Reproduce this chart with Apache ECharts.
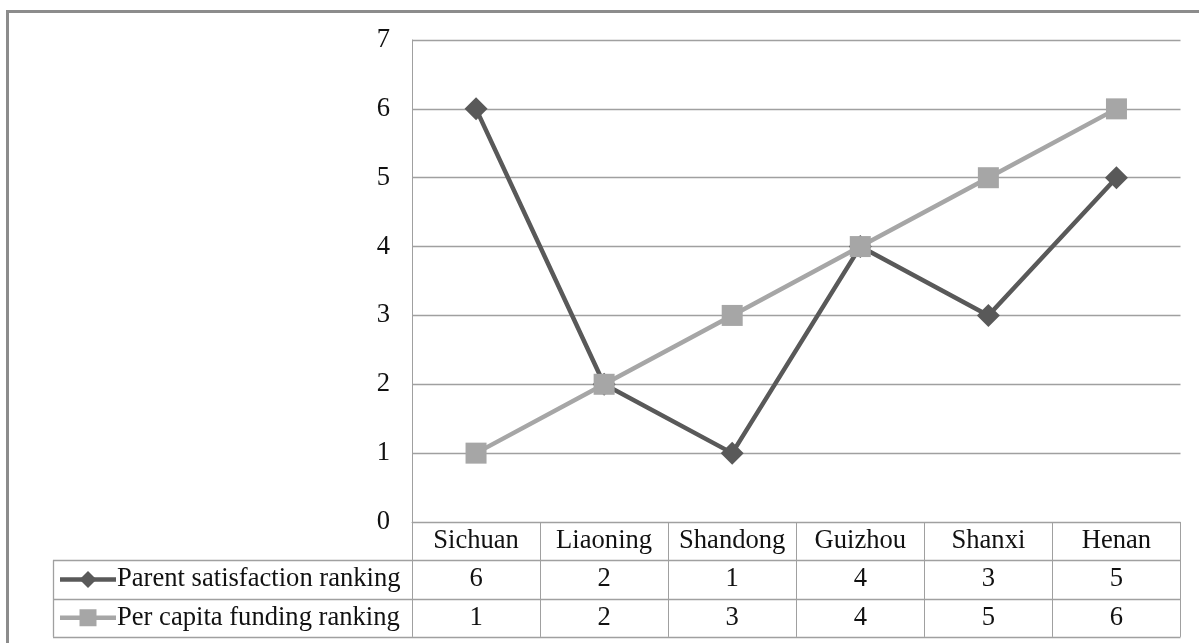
<!DOCTYPE html>
<html>
<head>
<meta charset="utf-8">
<script src="https://cdn.jsdelivr.net/npm/echarts@6/dist/echarts.min.js"></script>
<style>
html,body{margin:0;padding:0;background:#fff;}
#chart{width:1199px;height:643px;}
</style>
</head>
<body>
<div id="chart"></div>
<script>
const categories = ['Sichuan', 'Liaoning', 'Shandong', 'Guizhou', 'Shanxi', 'Henan'];
const parentSatisfaction = [6, 2, 1, 4, 3, 5];
const perCapitaFunding = [1, 2, 3, 4, 5, 6];
const seriesNames = ['Parent satisfaction ranking', 'Per capita funding ranking'];
const yMin = 0, yMax = 7, yInterval = 1;

const FONT = 'Liberation Serif';
const FS = 26.6;
const DARK = '#595959';
const LIGHT = '#a6a6a6';
const GRIDC = '#a0a0a0';
const TXT = '#111111';
const ROW_H = 38.3;

const chart = echarts.init(document.getElementById('chart'), null, {renderer: 'canvas'});

chart.setOption({
  animation: false,
  backgroundColor: '#ffffff',
  grid: {left: 412, top: 40, right: 18.5, bottom: 121, containLabel: false},
  xAxis: {
    type: 'category',
    data: categories,
    boundaryGap: true,
    axisLine: {show: true, lineStyle: {color: GRIDC, width: 1}},
    axisTick: {show: true, length: ROW_H * 3, inside: false, alignWithLabel: false, lineStyle: {color: GRIDC, width: 1}},
    axisLabel: {show: true, margin: 6, fontFamily: FONT, fontSize: FS, color: TXT, lineHeight: 26, interval: 0}
  },
  yAxis: {
    type: 'value',
    min: yMin, max: yMax, interval: yInterval,
    axisLine: {show: true, lineStyle: {color: GRIDC, width: 1}},
    axisTick: {show: false},
    splitLine: {show: true, lineStyle: {color: GRIDC, width: 1.3}},
    axisLabel: {margin: 22, fontFamily: FONT, fontSize: FS, color: TXT}
  },
  series: [
    {
      name: seriesNames[0], type: 'line', data: parentSatisfaction,
      symbol: 'diamond', symbolSize: 23,
      lineStyle: {color: DARK, width: 4.5},
      itemStyle: {color: DARK},
      z: 2
    },
    {
      name: seriesNames[1], type: 'line', data: perCapitaFunding,
      symbol: 'rect', symbolSize: 21,
      lineStyle: {color: LIGHT, width: 4.5},
      itemStyle: {color: LIGHT},
      z: 3
    }
  ]
});

function buildTable() {
  const axisY = chart.convertToPixel({yAxisIndex: 0}, 0);
  const centers = categories.map((c, i) => chart.convertToPixel({xAxisIndex: 0}, i));
  const band = centers.length > 1 ? centers[1] - centers[0] : 128;
  const rightX = centers[centers.length - 1] + band / 2;
  const tableLeft = 53;
  const g = [];
  g.push({type: 'rect', shape: {x: 7.5, y: 11.5, width: 1220, height: 660}, style: {fill: 'none', stroke: '#8c8c8c', lineWidth: 3}, silent: true});
  for (let r = 1; r <= 3; r++) {
    const y = Math.round(axisY + ROW_H * r) + 0.5;
    g.push({type: 'line', shape: {x1: tableLeft, y1: y, x2: rightX, y2: y}, style: {stroke: GRIDC, lineWidth: 1.3}, silent: true});
  }
  g.push({type: 'line', shape: {x1: tableLeft + 0.5, y1: axisY + ROW_H, x2: tableLeft + 0.5, y2: axisY + ROW_H * 3}, style: {stroke: GRIDC, lineWidth: 1.3}, silent: true});
  const rows = [
    {name: seriesNames[0], data: parentSatisfaction, color: DARK, symbol: 'diamond'},
    {name: seriesNames[1], data: perCapitaFunding, color: LIGHT, symbol: 'rect'}
  ];
  rows.forEach((row, ri) => {
    const cy = axisY + ROW_H * (ri + 1) + ROW_H / 2;
    g.push({type: 'line', shape: {x1: 60, y1: cy, x2: 116, y2: cy}, style: {stroke: row.color, lineWidth: 4.5}, silent: true});
    if (row.symbol === 'diamond') {
      g.push({type: 'polygon', shape: {points: [[88, cy - 8.5], [96.5, cy], [88, cy + 8.5], [79.5, cy]]}, style: {fill: row.color}, silent: true});
    } else {
      g.push({type: 'rect', shape: {x: 79.5, y: cy - 8.5, width: 17, height: 17}, style: {fill: row.color}, silent: true});
    }
    g.push({type: 'text', x: 117, y: cy, style: {text: row.name, font: FS + 'px "' + FONT + '"', fill: TXT, textAlign: 'left', textVerticalAlign: 'middle'}, silent: true});
    row.data.forEach((v, ci) => {
      g.push({type: 'text', x: centers[ci], y: cy, style: {text: String(v), font: FS + 'px "' + FONT + '"', fill: TXT, textAlign: 'center', textVerticalAlign: 'middle'}, silent: true});
    });
  });
  chart.setOption({graphic: g});
}
buildTable();
</script>
</body>
</html>
